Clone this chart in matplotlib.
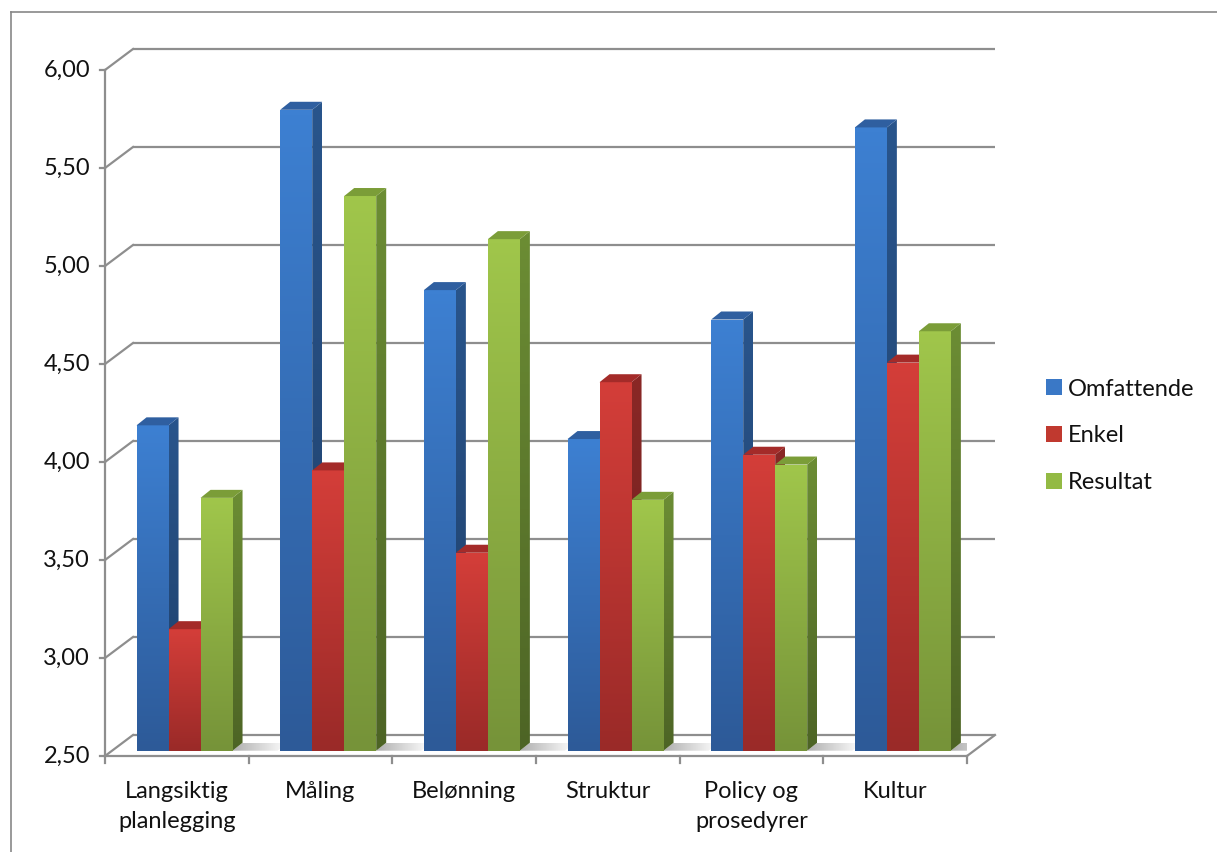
import numpy as np
import matplotlib
matplotlib.use("Agg")
import matplotlib.pyplot as plt
from matplotlib.patches import Polygon, Patch
from matplotlib.colors import LinearSegmentedColormap
from matplotlib.lines import Line2D

plt.rcParams['font.family'] = ['Lato', 'DejaVu Sans']

categories = ["Langsiktig\nplanlegging", "Måling", "Belønning", "Struktur",
              "Policy og\nprosedyrer", "Kultur"]
series_names = ["Omfattende", "Enkel", "Resultat"]
omfattende = [4.16, 5.77, 4.85, 4.09, 4.70, 5.68]
enkel = [3.12, 3.93, 3.51, 4.38, 4.01, 4.48]
resultat = [3.79, 5.33, 5.11, 3.78, 3.96, 4.64]
y_ticks = [2.5, 3.0, 3.5, 4.0, 4.5, 5.0, 5.5, 6.0]

# colours per series: front top, front bottom, side top, side bottom, top face
styles = [
    ("#3D80D2", "#2D5A98", "#29558C", "#1F3F69", "#2F5FA0"),
    ("#D43E39", "#9A2A28", "#8A2826", "#6B1E1D", "#A42B29"),
    ("#A0C64B", "#769339", "#6C8D34", "#4D6425", "#7B9D38"),
]
legend_colors = ["#3A78C6", "#C0392F", "#93BA44"]
txt_c = "#111111"
fs = 17

W, H = 1217, 852
fig = plt.figure(figsize=(W / 100, H / 100), dpi=100)
ax = fig.add_axes([105 / W, (H - 756) / H, 862 / W, 686 / H])
ax.set_xlim(-0.5, 5.5)
ax.set_ylim(2.5, 6.0)
ax.axis('off')

# pixel -> data helpers for the fake 3D depth
XPX = 862 / 6.0
YPX = 686 / 3.5
wall_dx, wall_dy = 28 / XPX, 21 / YPX      # back wall offset
bar_dx, bar_dy = 7.7 / XPX, 5.3 / YPX      # bars sit a little into the floor
dep_dx, dep_dy = 10 / XPX, 8 / YPX         # bar depth
bw = 32 / XPX
grid_c = "#8E8E8E"
x0, x1 = -0.5, 5.5
ymin = 2.5


def grad_poly(verts, c_top, c_bot, z, horizontal=False, alpha=1.0):
    poly = Polygon(verts, closed=True, facecolor='none', edgecolor='none',
                   zorder=z, clip_on=False)
    ax.add_patch(poly)
    xs = [v[0] for v in verts]
    ys = [v[1] for v in verts]
    cmap = LinearSegmentedColormap.from_list("g", [c_bot, c_top])
    g = np.linspace(0, 1, 128)
    arr = g.reshape(1, -1) if horizontal else g.reshape(-1, 1)
    im = ax.imshow(arr, cmap=cmap, origin='lower', aspect='auto',
                   extent=(min(xs), max(xs), min(ys), max(ys)),
                   zorder=z, alpha=alpha, interpolation='bilinear')
    im.set_clip_path(poly)
    im.set_clip_on(True)


# back wall gridlines + left wall diagonals
for t in y_ticks:
    ax.plot([x0 + wall_dx, x1 + wall_dx], [t + wall_dy, t + wall_dy],
            color=grid_c, lw=1.6, clip_on=False, zorder=1, solid_capstyle='butt')
    ax.plot([x0, x0 + wall_dx], [t, t + wall_dy], color=grid_c, lw=1.6,
            clip_on=False, zorder=1)
    ax.plot([x0 - 5 / XPX, x0], [t, t], color=grid_c, lw=1.6, clip_on=False, zorder=1)
    ax.text(x0 - 15 / XPX, t, f"{t:.2f}".replace('.', ','), ha='right', va='center',
            fontsize=fs, color=txt_c)

# floor front edge, right diagonal, front vertical axis
ax.plot([x0, x1], [ymin, ymin], color=grid_c, lw=1.6, clip_on=False, zorder=1)
ax.plot([x1, x1 + wall_dx], [ymin, ymin + wall_dy], color=grid_c, lw=1.6,
        clip_on=False, zorder=1)
ax.plot([x0, x0], [ymin, 6.0], color=grid_c, lw=1.6, clip_on=False, zorder=1)
for i in range(7):
    ax.plot([x0 + i, x0 + i], [ymin, ymin - 7 / YPX], color=grid_c, lw=1.6,
            clip_on=False, zorder=1)

for i, lab in enumerate(categories):
    ax.text(i, ymin - 25 / YPX, lab, ha='center', va='top', fontsize=fs,
            linespacing=1.55, color=txt_c)

series = [omfattende, enkel, resultat]
base = ymin + bar_dy
for g in range(len(categories)):
    left0 = g - 1.5 * bw + bar_dx
    # soft shadow on the floor right of the group
    xr = left0 + 3 * bw
    sh = 45 / XPX
    grad_poly([(xr, base), (xr + dep_dx, base + dep_dy), (xr + dep_dx + sh, base + dep_dy),
               (xr + sh, base)], "#FFFFFF", "#AFAFAF", 2, horizontal=True)
    for k, vals in enumerate(series):
        v = vals[g]
        ft, fb, st, sb, tc = styles[k]
        z = 10 + g * 10 + k * 3
        xl = left0 + k * bw
        top = v + bar_dy
        ax.bar(xl, v - ymin, width=bw, bottom=base, align='edge',
               color=fb, linewidth=0, zorder=z, clip_on=False)
        grad_poly([(xl, base), (xl + bw, base), (xl + bw, top), (xl, top)], ft, fb, z + 0.1)
        # side face
        grad_poly([(xl + bw, base), (xl + bw + dep_dx, base + dep_dy),
                   (xl + bw + dep_dx, top + dep_dy), (xl + bw, top)], st, sb, z + 1)
        # top face
        ax.add_patch(Polygon([(xl, top), (xl + bw, top), (xl + bw + dep_dx, top + dep_dy),
                              (xl + dep_dx, top + dep_dy)], closed=True, facecolor=tc,
                             edgecolor='none', zorder=z + 2, clip_on=False))

ax.set_xlim(-0.5, 5.5)
ax.set_ylim(2.5, 6.0)

handles = [Patch(facecolor=c, edgecolor='none') for c in legend_colors]
fig.legend(handles, series_names, loc='center left',
           bbox_to_anchor=(1046 / W, (H - 436) / H), frameon=False,
           fontsize=fs, handlelength=0.68, handleheight=0.68, handletextpad=0.25,
           labelspacing=1.1, labelcolor=txt_c, borderpad=0, borderaxespad=0)

# outer chart border (top and left edges are visible)
fig.add_artist(Line2D([11 / W, 1], [1 - 12 / H, 1 - 12 / H], color="#878787", lw=1.2))
fig.add_artist(Line2D([11 / W, 11 / W], [0, 1 - 12 / H], color="#878787", lw=1.2))

fig.savefig("out.png", dpi=100)
